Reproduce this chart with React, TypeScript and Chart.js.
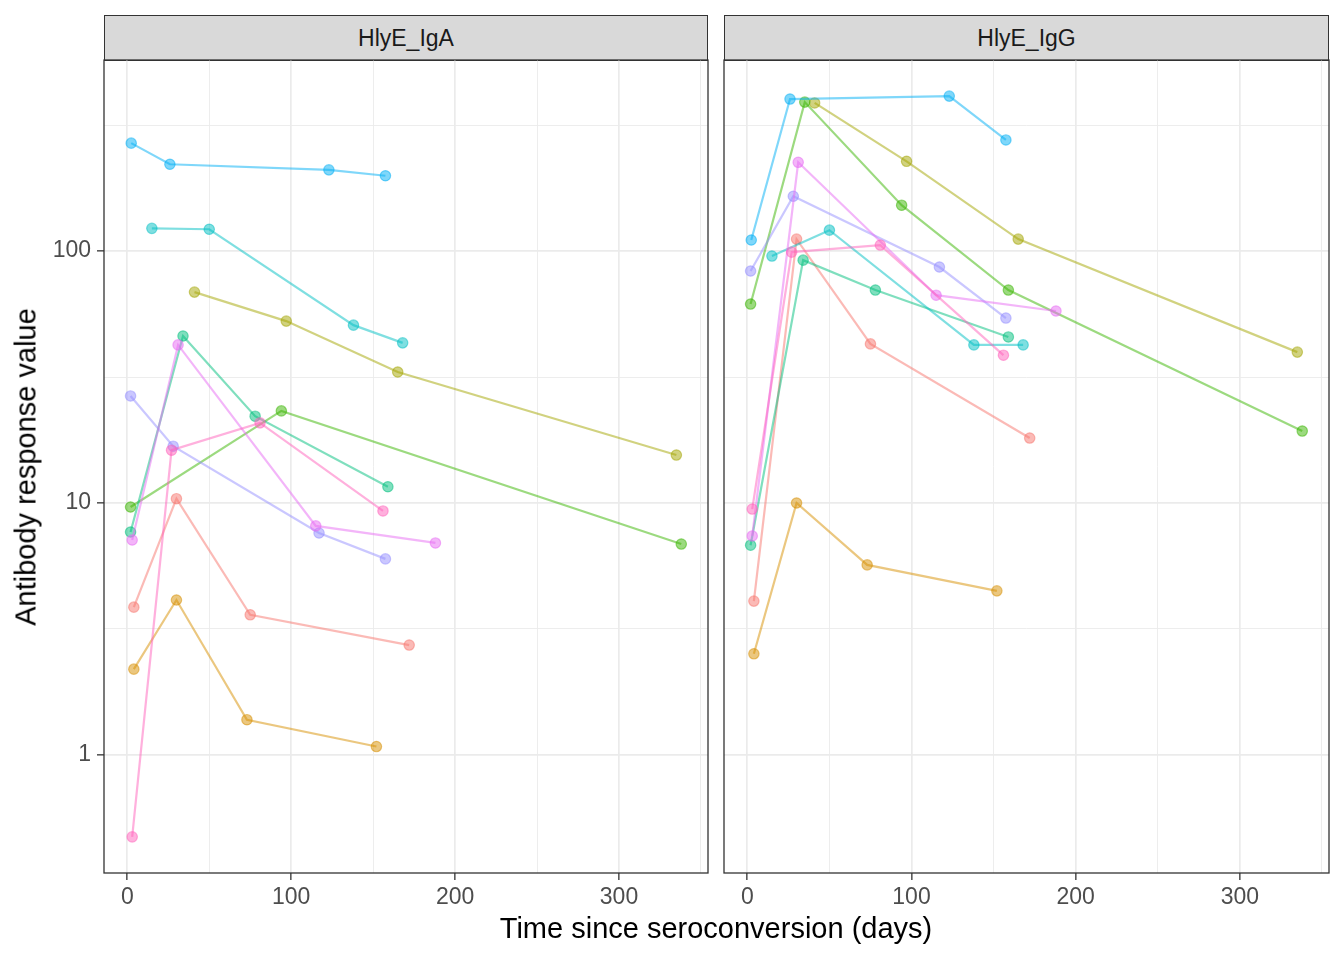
import { useEffect, useRef } from "react"
import { Chart, registerables } from "chart.js"

Chart.register(...registerables)

// one line per subject, ggplot hue palette order
const subjects = [
  "Subject 1", "Subject 2", "Subject 3", "Subject 4", "Subject 5",
  "Subject 6", "Subject 7", "Subject 8", "Subject 9", "Subject 10",
]
const subjectColors = [
  "#F8766D", "#D89000", "#A3A500", "#39B600", "#00BF7D",
  "#00BFC4", "#00B0F6", "#9590FF", "#E76BF3", "#FF62BC",
]

// days since seroconversion for each visit
const subjectDays = [
  [4, 30, 75, 172],
  [4, 30, 73, 152],
  [41, 97, 165, 335],
  [2, 35, 94, 159, 338],
  [2, 34, 78, 159],
  [15, 50, 138, 168],
  [2.4, 26, 123, 157.5],
  [2, 28, 117, 157.5],
  [3, 31, 115, 188],
  [3, 27, 81, 156],
]

const igaValues: (number | null)[][] = [
  [3.86, 10.4, 3.6, 2.73],
  [2.19, 4.12, 1.38, 1.08],
  [68.7, 52.7, 33.1, 15.5],
  [9.64, null, 23.2, null, 6.87],
  [7.67, 46, 22.1, 11.6],
  [123, 122, 50.8, 43.2],
  [268, 221, 210, 199],
  [26.6, 16.8, 7.6, 6.0],
  [7.13, 42.4, 8.11, 6.94],
  [0.473, 16.2, 20.8, 9.3],
]

const iggValues: (number | null)[][] = [
  [4.08, 111.5, 42.8, 18.1],
  [2.52, 10.0, 5.68, 4.48],
  [387, 227, 111.5, 39.7],
  [61.6, 390, 152, 70, 19.3],
  [6.8, 92, 70, 45.6],
  [95.5, 121, 42.4, 42.4],
  [110.6, 401, 412, 276],
  [83.3, 165, 86.4, 54.2],
  [7.4, 225, 66.8, 57.8],
  [9.46, 99, 105.6, 38.6],
]

const xGrid = [0, 50, 100, 150, 200, 250, 300, 350]
const xLabels = [0, 100, 200, 300]
const yGrid = [0.3162, 1, 3.162, 10, 31.62, 100, 316.2]
const yLabels = [1, 10, 100]

const X_MIN = -14.2
const X_MAX = 354.3
const Y_MIN = 0.34
const Y_MAX = 573

const FONT = "'Liberation Sans', Arial, Helvetica, sans-serif"

function rgba(hex: string, a: number) {
  const n = parseInt(hex.slice(1), 16)
  return `rgba(${(n >> 16) & 255}, ${(n >> 8) & 255}, ${n & 255}, ${a})`
}

// theme_bw style frame round the plot area
const panelBorder = {
  id: "panelBorder",
  afterDraw(chart: any) {
    const { ctx, chartArea: a } = chart
    ctx.save()
    ctx.strokeStyle = "#333333"
    ctx.lineWidth = 1.3
    ctx.strokeRect(a.left, a.top, a.right - a.left, a.bottom - a.top)
    ctx.restore()
  },
}

function makeConfig(values: (number | null)[][], showY: boolean): any {
  return {
    type: "line",
    data: {
      datasets: subjects.map((name, i) => ({
        label: name,
        data: subjectDays[i]
          .map((d, j) => ({ x: d, y: values[i][j] }))
          .filter((p) => p.y !== null),
        borderColor: rgba(subjectColors[i], 0.5),
        backgroundColor: rgba(subjectColors[i], 0.5),
        pointBackgroundColor: rgba(subjectColors[i], 0.5),
        pointBorderColor: rgba(subjectColors[i], 0.5),
        borderWidth: 2.2,
        pointRadius: 5.2,
        pointBorderWidth: 1.2,
        tension: 0,
        order: subjects.length - i,
      })),
    },
    options: {
      animation: false,
      responsive: true,
      maintainAspectRatio: false,
      layout: { padding: { top: 20, left: 0, bottom: 0, right: showY ? 8 : 15 } },
      plugins: { legend: { display: false }, tooltip: { enabled: false } },
      scales: {
        x: {
          type: "linear",
          bounds: "data",
          min: X_MIN,
          max: X_MAX,
          afterBuildTicks: (s: any) => {
            s.ticks = xGrid.map((v) => ({ value: v }))
          },
          afterFit: (s: any) => {
            s.height = 50
          },
          ticks: {
            autoSkip: false,
            maxRotation: 0,
            padding: 4,
            color: "#4D4D4D",
            font: { family: FONT, size: 23 },
            callback: (v: number) => (xLabels.includes(v) ? String(v) : ""),
          },
          grid: {
            color: "#EBEBEB",
            lineWidth: (c: any) => (xLabels.includes(c.tick?.value) ? 1.7 : 0.9),
            tickLength: 7,
            tickWidth: 1.3,
            tickColor: (c: any) => (xLabels.includes(c.tick?.value) ? "#333333" : "rgba(0,0,0,0)"),
          },
          border: { display: false },
        },
        y: {
          type: "logarithmic",
          bounds: "data",
          min: Y_MIN,
          max: Y_MAX,
          afterBuildTicks: (s: any) => {
            s.ticks = yGrid.filter((v) => v >= Y_MIN && v <= Y_MAX).map((v) => ({ value: v }))
          },
          afterFit: (s: any) => {
            s.width = showY ? 104 : 8
          },
          ticks: {
            display: showY,
            autoSkip: false,
            padding: 6,
            color: "#4D4D4D",
            font: { family: FONT, size: 23 },
            callback: (v: number) => (yLabels.includes(v) ? String(v) : ""),
          },
          grid: {
            color: "#EBEBEB",
            lineWidth: (c: any) => (yLabels.includes(c.tick?.value) ? 1.7 : 0.9),
            drawTicks: showY,
            tickLength: 7,
            tickWidth: 1.3,
            tickColor: (c: any) => (yLabels.includes(c.tick?.value) ? "#333333" : "rgba(0,0,0,0)"),
          },
          border: { display: false },
        },
      },
    },
    plugins: [panelBorder],
  }
}

function Panel({ values, left, width, showY }: { values: (number | null)[][]; left: number; width: number; showY: boolean }) {
  const chartRef = useRef<HTMLCanvasElement>(null)

  useEffect(() => {
    if (!chartRef.current) return
    const chart = new Chart(chartRef.current, makeConfig(values, showY))
    return () => chart.destroy()
  }, [values, showY])

  return (
    <div style={{ position: "absolute", left, top: 40, width, height: 883 }}>
      <canvas ref={chartRef} />
    </div>
  )
}

function Strip({ left, width, text }: { left: number; width: number; text: string }) {
  return (
    <div
      style={{
        position: "absolute",
        left,
        top: 15,
        width,
        height: 46,
        boxSizing: "border-box",
        border: "1.3px solid #333333",
        background: "#D9D9D9",
        color: "#1A1A1A",
        fontFamily: FONT,
        fontSize: 23,
        display: "flex",
        alignItems: "center",
        justifyContent: "center",
      }}
    >
      {text}
    </div>
  )
}

export default function App() {
  return (
    <div style={{ position: "absolute", left: 0, top: 0, width: 1344, height: 960, background: "#fff", fontFamily: FONT }}>
      <Strip left={104} width={604} text="HlyE_IgA" />
      <Strip left={724} width={605} text="HlyE_IgG" />
      <Panel values={igaValues} left={0} width={716} showY={true} />
      <Panel values={iggValues} left={716} width={628} showY={false} />
      <div
        style={{
          position: "absolute",
          left: 26,
          top: 467,
          transform: "translate(-50%, -50%) rotate(-90deg)",
          whiteSpace: "nowrap",
          fontSize: 29,
          lineHeight: "29px",
          color: "#000",
        }}
      >
        Antibody response value
      </div>
      <div
        style={{
          position: "absolute",
          left: 716,
          top: 928,
          transform: "translate(-50%, -50%)",
          whiteSpace: "nowrap",
          fontSize: 29,
          lineHeight: "29px",
          color: "#000",
        }}
      >
        Time since seroconversion (days)
      </div>
    </div>
  )
}
